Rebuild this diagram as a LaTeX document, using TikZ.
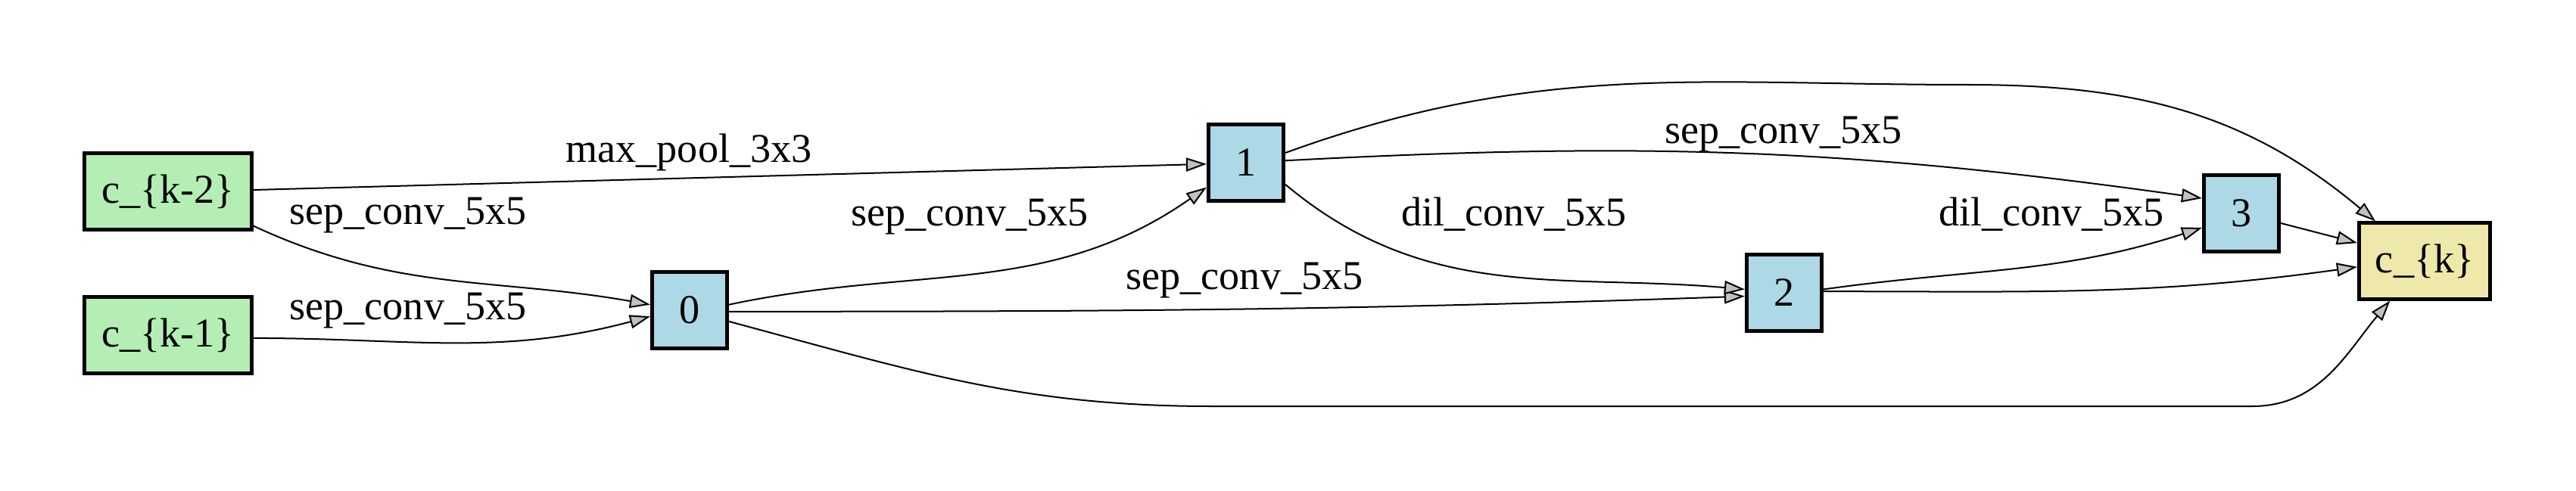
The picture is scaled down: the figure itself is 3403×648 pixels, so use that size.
\documentclass[tikz,border=0pt]{standalone}
\usepackage{fontspec}
\setmainfont{Liberation Serif}
\usetikzlibrary{arrows.meta}
\newcommand{\sepconv}{sep\_conv\_5x5}
\newcommand{\dilconv}{dil\_conv\_5x5}
\newcommand{\maxpool}{max\_pool\_3x3}
\definecolor{ingreen}{HTML}{B4EEB4}
\definecolor{opblue}{HTML}{ADD8E6}
\definecolor{outyellow}{HTML}{EEE8AA}
\definecolor{tipgray}{HTML}{C0C0C0}
\tikzset{innode/.style={shape=rectangle, draw=black, fill=ingreen, line width=0.05cm, minimum width=2.2cm, minimum height=1cm, inner sep=0pt, font=\fontsize{15.4}{18}\selectfont}}
\tikzset{opnode/.style={shape=rectangle, draw=black, fill=opblue, line width=0.05cm, minimum width=0.99cm, minimum height=1cm, inner sep=0pt, font=\fontsize{15.4}{18}\selectfont}}
\tikzset{outnode/.style={shape=rectangle, draw=black, fill=outyellow, line width=0.05cm, minimum width=1.73cm, minimum height=1cm, inner sep=0pt, font=\fontsize{15.4}{18}\selectfont}}
\tikzset{oplabel/.style={inner sep=0pt, anchor=base, font=\fontsize{15.4}{18}\selectfont}}
\tikzset{edge/.style={line width=0.02cm, -{Triangle[length=0.27cm, width=0.18cm, fill=tipgray]}}}

\begin{document}
\begin{tikzpicture}[x=0.01cm, y=0.01cm]
\useasboundingbox (0,0) rectangle (3403,648);
%Nodes
\node[innode]  (km2) at (222,395)  {c\_\{k-2\}};
\node[innode]  (km1) at (222,205)  {c\_\{k-1\}};
\node[opnode]  (op0) at (911,238)  {0};
\node[opnode]  (op1) at (1646,433) {1};
\node[opnode]  (op2) at (2357,261) {2};
\node[opnode]  (op3) at (2961,366) {3};
\node[outnode] (ck)  at (3203,303) {c\_\{k\}};
%Labels
\node[oplabel] (lmax)  at (910,433)  {\maxpool};
\node[oplabel] (lsepa) at (539,351)  {\sepconv};
\node[oplabel] (lsepb) at (539,226)  {\sepconv};
\node[oplabel] (lsepc) at (1281,350) {\sepconv};
\node[oplabel] (lsepd) at (1644,266) {\sepconv};
\node[oplabel] (ldila) at (2000,350) {\dilconv};
\node[oplabel] (lsepe) at (2356,458) {\sepconv};
\node[oplabel] (ldilb) at (2710,350) {\dilconv};
%Lines
\draw[edge] (km2.1) -- (op1.182);
\draw[edge] (km2.-22) to[out=-25,in=170] (op0.172);
\draw[edge] (km1.-2) to[out=0,in=195] (op0.189);
\draw[edge] (op0.8) to[out=12,in=215] (op1.212);
\draw[edge] (op0.-2) to[out=0,in=182] (op2.185);
\draw[edge] (op0.-16) to[out=-15,in=180] (1600,111) -- (2975,111) to[out=0,in=230] (ck.-131);
\draw[edge] (op1.14) to[out=20,in=180] (2600,536) to[out=0,in=140] (ck.141);
\draw[edge] (op1.3) to[out=3,in=172] (op3.159);
\draw[edge] (op1.-29) to[out=-40,in=175] (op2.175);
\draw[edge] (op2.5) to[out=8,in=198] (op3.200);
\draw[edge] (op2.2) to[out=0,in=188] (ck.185);
\draw[edge] (op3.-14) -- (ck.165);
\end{tikzpicture}
\end{document}
